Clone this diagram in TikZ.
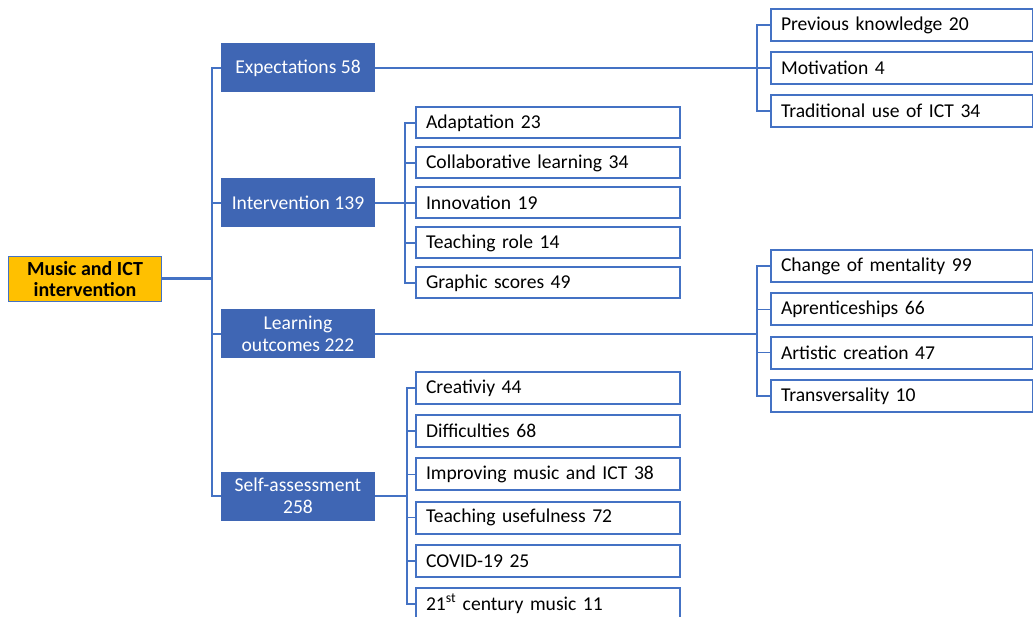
\documentclass[tikz,border=0pt]{standalone}
\usepackage{fontspec}
\setmainfont{Carlito}
\definecolor{ictblue}{HTML}{4472C4}
\definecolor{ictdark}{HTML}{3F66B4}
\definecolor{ictgold}{HTML}{FFC000}
\begin{document}
\begin{tikzpicture}[x=1pt,y=-1pt,
		every node/.style={font=\fontsize{19.6}{22}\selectfont,inner sep=0pt},
		root/.style={draw=ictblue,line width=1.5pt,fill=ictgold,minimum width=153,minimum height=45,align=center,font=\fontsize{20}{20.5}\selectfont\bfseries},
		cat/.style={fill=ictdark,text=white,minimum width=154,minimum height=49,align=center},
		leaf/.style={draw=ictblue,line width=2pt,anchor=west,minimum height=32,text width=244,inner xsep=10pt,align=left},
		link/.style={draw=ictblue,line width=1.5pt}]
		\useasboundingbox (0,0) rectangle (1033,617);
		\clip (0,0) rectangle (1033,617);
		\node[root] (root) at (85,279) {Music and ICT\\intervention};
		\node[cat] (exp) at (298,68) {Expectations 58};
		\node[cat] (int) at (298,203) {Intervention 139};
		\node[cat] (lo) at (298,334) {Learning\\outcomes 222};
		\node[cat] (sa) at (298,496) {Self-assessment\\258};
		\foreach \t [count=\i] in {Previous knowledge 20,Motivation 4,Traditional use of ICT 34} {
				\node[leaf,text width=242] (exp-\i) at (770,{25+43*(\i-1)}) {\t};
			}
		\foreach \t [count=\i] in {Adaptation 23,Collaborative learning 34,Innovation 19,Teaching role 14,Graphic scores 49} {
				\node[leaf,minimum height=31] (int-\i) at (415,{123+40*(\i-1)}) {\t};
			}
		\foreach \t [count=\i] in {Change of mentality 99,Aprenticeships 66,Artistic creation 47,Transversality 10} {
				\node[leaf,text width=242] (lo-\i) at (770,{266+43.3*(\i-1)}) {\t};
			}
		\foreach \t [count=\i] in {Creativiy 44,Difficulties 68,Improving music and ICT 38,Teaching usefulness 72,COVID-19 25,21\textsuperscript{st} century music 11} {
				\node[leaf] (sa-\i) at (415,{388+43.2*(\i-1)}) {\t};
			}
		% trunk from the root to the four groups
		\coordinate (trunk) at (212,279);
		\draw[link,line width=3pt] (root.east) -- (trunk);
		\foreach \c in {exp,int,lo,sa} {
				\draw[link] (trunk) |- (\c.west);
			}
		% groups to their codes
		\foreach \i in {1,...,3} {
				\draw[link] (exp.east) -| ([xshift=-13pt]exp-\i.west) -- (exp-\i.west);
			}
		\foreach \i in {1,...,5} {
				\draw[link] (int.east) -| ([xshift=-10pt]int-\i.west) -- (int-\i.west);
			}
		\foreach \i in {1,...,4} {
				\draw[link] (lo.east) -| ([xshift=-13pt]lo-\i.west) -- (lo-\i.west);
			}
		\foreach \i in {1,...,6} {
				\draw[link] (sa.east) -| ([xshift=-8pt]sa-\i.west) -- (sa-\i.west);
			}
	\end{tikzpicture}
\end{document}
